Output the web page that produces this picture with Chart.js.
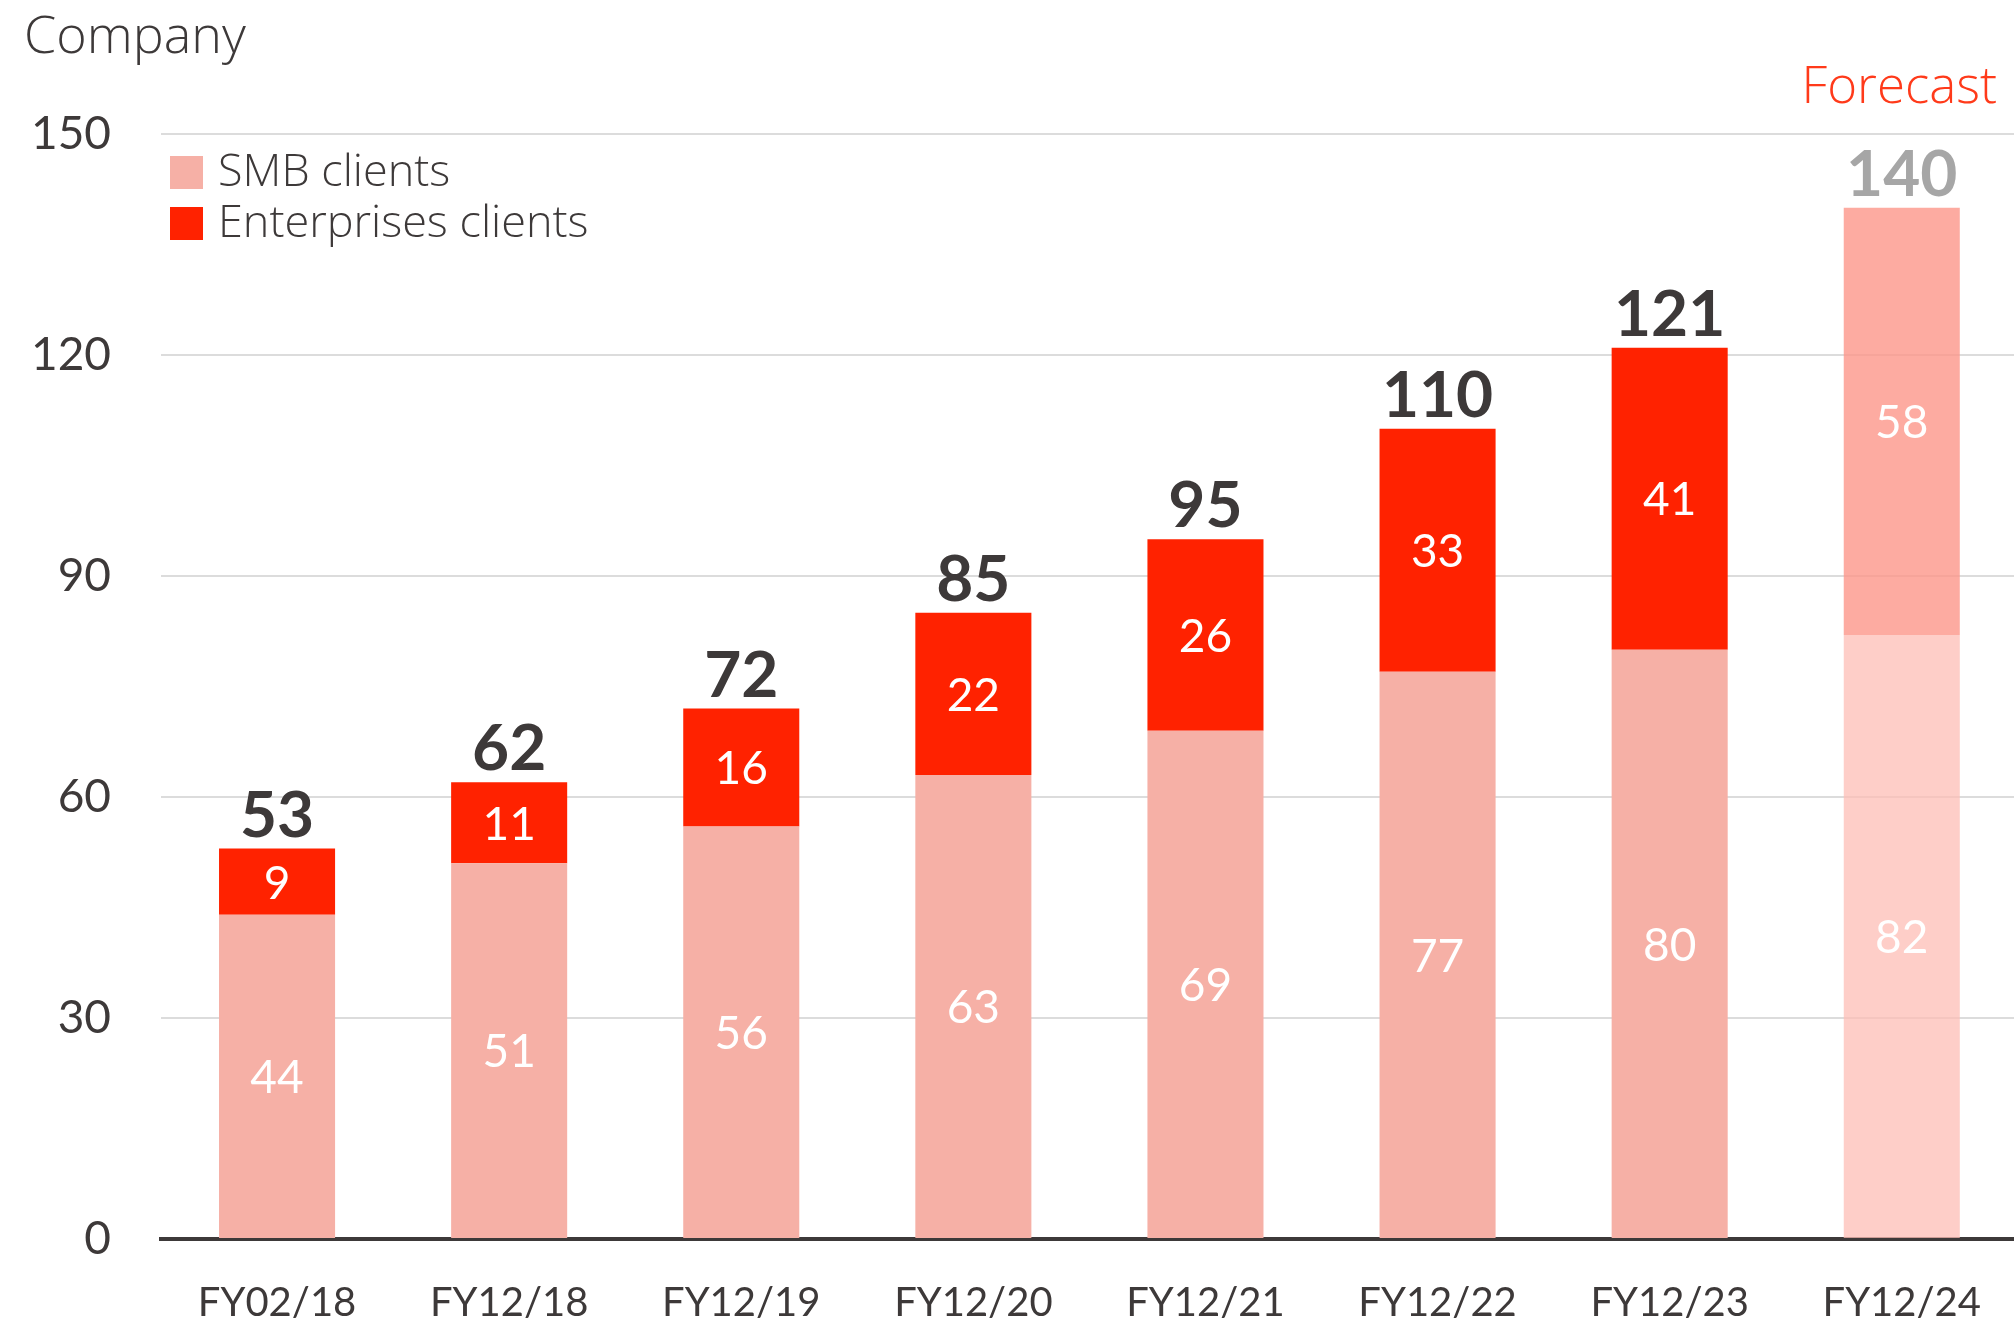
<!DOCTYPE html>
<html>
<head>
<meta charset="utf-8">
<script src="https://cdn.jsdelivr.net/npm/chart.js@4"></script>
<style>
  html, body { margin: 0; padding: 0; background: #fff; overflow: hidden; }
  #wrap { width: 2014px; height: 1322px; overflow: hidden; }
</style>
</head>
<body>
<div id="wrap"><canvas id="myChart" width="2021" height="1322"></canvas></div>
<script>
const labels = ['FY02/18', 'FY12/18', 'FY12/19', 'FY12/20', 'FY12/21', 'FY12/22', 'FY12/23', 'FY12/24'];
const smbClients = [44, 51, 56, 63, 69, 77, 80, 82];
const enterpriseClients = [9, 11, 16, 22, 26, 33, 41, 58];
const totals = [53, 62, 72, 85, 95, 110, 121, 140];
const yTicks = [0, 30, 60, 90, 120, 150];
const forecastIndex = 7;

const FONT = 'Lato, "Noto Sans", sans-serif';
const WORD_FONT = '"Open Sans", Lato, sans-serif';
const DARK = '#3d3939';

const smbColors = labels.map((l, i) => i === forecastIndex ? 'rgba(253,190,182,0.75)' : '#f6b0a6');
const entColors = labels.map((l, i) => i === forecastIndex ? 'rgba(252,150,138,0.8)' : '#ff2200');

const labelsPlugin = {
  id: 'labelsPlugin',
  afterDatasetsDraw(chart) {
    const ctx = chart.ctx;
    ctx.save();
    ctx.textAlign = 'center';
    ctx.textBaseline = 'middle';
    // values inside the bars
    chart.data.datasets.forEach((ds, di) => {
      const meta = chart.getDatasetMeta(di);
      meta.data.forEach((bar, i) => {
        ctx.fillStyle = '#ffffff';
        ctx.font = '46px ' + FONT;
        ctx.fillText(ds.data[i], bar.x, (bar.y + bar.base) / 2 + 2);
      });
    });
    // totals above bars
    const top = chart.getDatasetMeta(1);
    top.data.forEach((bar, i) => {
      ctx.fillStyle = i === forecastIndex ? '#a6a6a6' : DARK;
      ctx.font = 'bold 64px ' + FONT;
      ctx.textBaseline = 'alphabetic';
      ctx.fillText(totals[i], bar.x, bar.y - 12);
    });
    // unit + forecast note
    ctx.textBaseline = 'middle';
    ctx.textAlign = 'left';
    ctx.fillStyle = DARK;
    ctx.font = '300 52px ' + WORD_FONT;
    ctx.fillText('Company', 24, 38);
    ctx.textAlign = 'right';
    ctx.fillStyle = '#ff3a1a';
    ctx.font = '300 51px ' + WORD_FONT;
    ctx.fillText('Forecast', 1997, 88);
    // legend
    const items = [['SMB clients', '#f6b0a6', 173], ['Enterprises clients', '#ff2200', 224]];
    ctx.textAlign = 'left';
    items.forEach(([text, color, cy]) => {
      ctx.fillStyle = color;
      ctx.fillRect(170, cy - 17, 33, 33);
      ctx.fillStyle = DARK;
      ctx.font = '300 45px ' + WORD_FONT;
      ctx.fillText(text, 218, cy);
    });
    ctx.restore();
  }
};

new Chart(document.getElementById('myChart'), {
  type: 'bar',
  data: {
    labels: labels,
    datasets: [
      { label: 'SMB clients', data: smbClients, backgroundColor: smbColors, borderWidth: 0 },
      { label: 'Enterprises clients', data: enterpriseClients, backgroundColor: entColors, borderWidth: 0 }
    ]
  },
  options: {
    responsive: false,
    animation: false,
    maintainAspectRatio: false,
    layout: { padding: { left: 0, right: 0, top: 134, bottom: 0 } },
    plugins: { legend: { display: false }, tooltip: { enabled: false } },
    datasets: { bar: { categoryPercentage: 1, barPercentage: 0.5 } },
    scales: {
      x: {
        stacked: true,
        grid: { display: false, drawTicks: false },
        border: { display: true, color: DARK, width: 4 },
        ticks: { color: DARK, font: { family: FONT, size: 40 }, padding: 40 },
        afterFit(scale) { scale.height = 83; }
      },
      y: {
        stacked: true,
        min: 0,
        max: 150,
        afterBuildTicks(scale) { scale.ticks = yTicks.map(v => ({ value: v })); },
        grid: { color: '#dcdcdc', lineWidth: 2, drawTicks: false },
        border: { display: false },
        ticks: { color: DARK, font: { family: FONT, size: 46 }, padding: 50 },
        afterFit(scale) { scale.width = 161; }
      }
    }
  },
  plugins: [labelsPlugin]
});
</script>
</body>
</html>
